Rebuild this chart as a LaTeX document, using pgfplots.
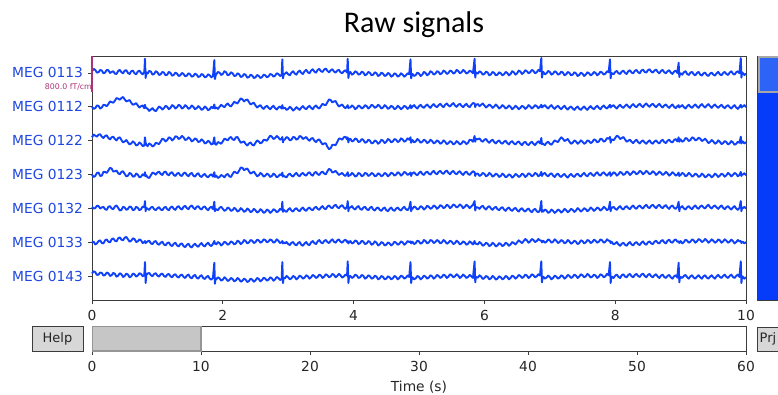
\documentclass[border=0pt]{standalone}
\usepackage{pgfplots}
\pgfplotsset{compat=1.18}
\usepackage{pgfplotstable}
\usepackage{fontspec}
\setmainfont{DejaVu Sans}
\newfontfamily\titlefont{Carlito}
\definecolor{trace}{RGB}{15,65,250}
\definecolor{chlab}{RGB}{30,70,225}
\definecolor{scalec}{HTML}{AA3377}
\definecolor{sbblue}{RGB}{5,60,250}
\definecolor{sbtop}{RGB}{45,100,245}
\definecolor{btn}{RGB}{215,215,215}
\definecolor{frame}{RGB}{60,60,60}
\definecolor{selfill}{RGB}{198,198,198}
\definecolor{seldraw}{RGB}{150,150,150}

% t in 1/100 s; channel deviations in 1/100 of the channel spacing (up = positive)
\pgfplotstableread{
t a b c d e f g
0 5 0 10 0 5 0 8
2.5 12 -6 18 -7 0 2 15
5 9 -4 15 -4 1 -6 12
7.5 1 4 12 5 8 -3 4
10 2 3 18 6 7 4 5
12.5 9 -5 19 -4 0 6 11
15 7 -2 12 -3 3 -2 10
17.5 -1 6 8 8 5 -3 2
20 1 5 14 8 -2 6 4
22.5 9 2 16 5 -4 9 11
25 8 8 8 12 5 2 9
27.5 0 16 4 20 7 0 1
30 3 14 10 18 0 9 3
32.5 5 12 12 9 -2 12 10
35 -2 18 5 10 6 5 7
37.5 -3 26 1 12 9 3 -1
40 6 24 8 4 2 12 2
42.5 9 21 10 1 -6 15 9
45 2 26 2 8 -4 8 6
47.5 -1 29 -5 10 5 6 -2
50 7 22 -2 2 3 14 1
52.5 8 16 2 -5 -4 16 8
55 0 18 -5 -3 -1 9 5
57.5 -3 20 -11 5 6 2 -3
60 5 12 -8 2 4 5 0
62.5 7 6 -2 -6 -5 12 8
65 -1 8 -6 -5 -3 10 6
67.5 -4 11 -14 3 5 1 -1
70 4 4 -12 0 2 3 2
72.5 7 -2 -5 -8 -5 9 9
75 0 2 -9 -6 -2 6 7
77.5 -4 4 -16 1 6 -2 0
80 3 -4 -14 -3 4 1 4
81 42 6 10 7 22 4 42
82 -15 -3 -6 -5 -8 -2 -20
83 2 -3 -12 -2 2 0 3
85 -2 -6 -16 -8 -1 3 8
87.5 6 -12 -8 -10 -4 5 10
90 4 -8 -11 -2 3 -3 3
92.5 -5 -4 -17 6 5 -5 0
95 -3 -10 -14 4 -2 2 7
97.5 5 -13 -6 0 -5 4 9
100 2 -6 -8 6 1 -4 2
102.5 -6 1 -10 9 4 -7 -1
105 -4 -2 -2 2 -3 -1 6
107.5 3 -8 6 -1 -5 2 8
110 1 -4 4 7 2 -6 1
112.5 -7 3 -2 9 5 -9 -2
115 -5 0 2 1 -2 -2 5
117.5 3 -7 10 -2 -5 0 7
120 0 -3 8 5 3 -8 0
122.5 -8 5 1 7 6 -11 -3
125 -6 2 5 -1 -1 -4 4
127.5 1 -5 13 -4 -4 -1 6
130 -2 -1 12 3 4 -9 -1
132.5 -9 6 5 5 7 -12 -4
135 -7 3 8 -2 0 -5 3
137.5 0 -5 14 -4 -3 -3 5
140 -3 -2 10 4 5 -11 -2
142.5 -10 5 2 6 8 -14 -5
145 -8 1 4 -1 1 -7 2
147.5 -1 -6 10 -5 -2 -4 5
150 -4 -3 6 2 6 -12 -3
152.5 -11 4 -2 5 9 -15 -6
155 -9 0 1 -3 2 -8 1
157.5 -2 -7 7 -6 -2 -4 4
160 -5 -4 4 1 5 -10 -4
162.5 -12 2 -4 4 7 -13 -7
165 -10 -2 -2 -4 0 -6 0
167.5 -3 -9 4 -7 -3 -2 3
170 -6 -6 0 -1 4 -9 -5
172.5 -13 1 -8 2 6 -12 -8
175 -11 -3 -6 -5 -1 -5 -2
177.5 -4 -10 0 -8 -5 -1 1
180 -7 -7 -4 -2 2 -8 -7
182.5 -13 0 -11 1 5 -11 -10
185 -9 -4 -9 -6 -2 -4 -4
187 38 7 10 7 20 4 40
188 -18 -5 -10 -7 -8 -4 -22
189 -8 -3 -10 -5 -1 -3 -6
190 -4 -2 -12 -3 -3 -6 -9
192.5 3 -6 -4 -10 -5 1 -3
195 1 0 -6 -7 2 -2 -6
197.5 -6 6 -9 -1 5 -9 -13
200 -3 2 -2 -4 -1 -5 -10
202.5 5 -1 6 -8 -7 2 -3
205 2 6 4 -1 -4 -1 -7
207.5 -7 10 1 2 3 -7 -14
210 -5 4 8 -5 0 -4 -11
212.5 2 1 11 -7 -7 3 -5
215 -1 8 4 2 -5 0 -8
217.5 -9 15 2 9 2 -6 -15
220 -8 12 10 6 -2 -3 -12
222.5 -1 10 11 4 -9 5 -5
225 -4 18 2 12 -6 2 -9
227.5 -12 25 -6 21 1 -5 -16
230 -10 22 -4 20 -3 -1 -13
232.5 -3 16 -2 13 -10 7 -7
235 -6 20 -10 16 -7 4 -10
237.5 -14 22 -14 18 0 -3 -17
240 -12 14 -8 10 -4 0 -14
242.5 -5 7 -5 3 -11 7 -7
245 -8 10 -12 6 -8 5 -10
247.5 -15 12 -14 9 -1 -2 -16
250 -13 4 -6 2 -5 1 -12
252.5 -6 -2 1 -5 -12 8 -5
255 -9 2 -2 -2 -9 6 -8
257.5 -15 5 -8 5 -2 -1 -15
260 -12 -2 -5 1 -6 2 -11
262.5 -5 -6 3 -6 -13 9 -4
265 -7 0 2 -3 -10 7 -7
267.5 -13 3 0 3 -3 0 -13
270 -10 -3 8 0 -6 3 -10
272.5 -3 -7 15 -7 -13 9 -3
275 -5 -1 12 -4 -9 6 -6
277.5 -11 3 5 3 -2 -1 -13
280 -8 -4 8 -1 -5 2 -9
282.5 -1 -8 14 -8 -11 9 -2
285 -3 -2 10 -5 -8 5 -5
287.5 -9 1 3 1 -1 -2 -11
290 -6 -5 6 -2 -4 1 -8
291 40 5 11 6 20 4 42
292 -16 -5 -5 -6 -10 -3 -20
293 -6 -3 2 -3 -3 0 -4
295 -2 -3 4 -6 -7 -3 -6
297.5 2 -9 11 -8 -10 1 1
300 -4 -6 8 0 -3 -5 -3
302.5 -7 0 1 3 1 -8 -9
305 1 -4 3 -3 -6 -1 -6
307.5 5 -11 11 -6 -9 1 1
310 -2 -7 10 1 -2 -6 -2
312.5 -5 -1 3 5 1 -9 -9
315 3 -5 6 -2 -5 -2 -5
317.5 7 -9 14 -5 -8 1 2
320 0 -2 12 2 -1 -7 -1
322.5 -3 2 5 5 3 -10 -7
325 5 -4 8 -1 -4 -3 -4
327.5 9 -7 11 -3 -7 1 3
330 2 -1 4 4 0 -6 0
332.5 -1 3 0 7 3 -8 -7
335 7 -3 6 0 -3 0 -3
337.5 11 -7 8 -3 -5 4 4
340 4 0 0 5 2 -2 1
342.5 1 4 -4 8 5 -5 -5
345 9 -2 2 1 -1 3 -2
347.5 12 -5 4 -1 -4 7 5
350 5 2 -4 6 3 0 2
352.5 3 9 -11 9 7 -3 -5
355 10 6 -8 3 0 4 -1
357.5 13 5 -8 1 -2 7 6
360 6 14 -18 10 6 1 3
362.5 2 22 -25 17 9 -2 -3
365 8 20 -22 14 3 5 0
367.5 11 13 -12 6 1 9 7
370 4 16 -12 8 8 2 4
372.5 1 17 -13 11 11 -1 -3
375 7 8 -4 5 4 6 1
377.5 9 1 6 -1 1 9 7
380 2 4 6 2 7 2 3
382.5 -1 7 3 5 10 -1 -4
385 5 0 10 -1 3 5 -1
387.5 8 -4 12 -4 -1 8 5
390 1 2 4 3 6 1 2
391 42 5 10 7 22 4 44
392 -15 -4 -5 -5 -8 -3 -20
393 -3 -2 4 -2 2 0 -3
395 3 -2 6 -2 3 4 1
397.5 -5 4 -2 5 7 -3 -5
400 -2 0 0 1 0 -1 -2
402.5 5 -7 7 -6 -3 6 5
405 2 -3 4 -3 4 3 2
407.5 -5 4 -4 5 7 -5 -5
410 -3 1 -2 2 -1 -2 -3
412.5 4 -5 5 -5 -4 5 4
415 1 -2 2 -2 3 2 1
417.5 -7 5 -6 5 5 -5 -7
420 -4 2 -4 3 -2 -3 -4
422.5 3 -5 3 -4 -5 4 3
425 0 -1 0 -1 2 1 0
427.5 -7 6 -8 5 5 -7 -7
430 -5 3 -6 2 -3 -4 -5
432.5 2 -3 1 -5 -6 3 2
435 -1 0 -2 -3 1 -1 -1
437.5 -9 6 -9 4 3 -9 -9
440 -6 2 -5 1 -4 -6 -6
442.5 1 -5 3 -5 -7 1 1
445 -2 -2 0 -2 0 -2 -2
447.5 -9 5 -7 5 3 -9 -9
450 -7 1 -3 2 -5 -7 -7
452.5 0 -6 5 -5 -8 0 0
455 -3 -3 2 -1 -1 -3 -3
457.5 -11 3 -5 6 3 -9 -9
460 -8 0 -2 3 -4 -5 -6
462.5 -1 -7 5 -3 -7 2 1
465 -4 -4 3 0 0 -1 -2
467.5 -11 3 -4 7 3 -7 -9
470 -8 -1 -1 4 -3 -4 -5
472.5 -1 -7 7 -3 -6 3 2
475 -5 -3 4 1 1 0 -1
477.5 -11 3 -3 8 5 -7 -7
480 -7 0 0 5 -2 -3 -4
482.5 -1 -6 7 -1 -5 4 2
485 -4 -2 3 2 2 1 -2
487 40 5 10 6 20 3 42
488 -16 -4 -6 -4 -8 -3 -20
489 -6 -2 0 2 -1 0 -5
490 -3 1 2 4 -1 2 -3
492.5 -9 5 -5 7 6 -5 -9
495 -6 -1 -2 1 3 -2 -6
497.5 1 -5 5 -2 -3 5 1
500 -2 2 1 5 0 3 -2
502.5 -9 6 -6 9 7 -4 -9
505 -5 0 -3 2 4 -1 -5
507.5 3 -3 3 -1 -3 7 2
510 0 3 0 6 1 4 -1
512.5 -7 7 -7 9 8 -3 -7
515 -3 1 -4 3 5 0 -4
517.5 5 -3 3 0 -1 7 3
520 2 4 -1 7 2 5 0
522.5 -5 8 -8 11 9 -2 -7
525 -2 2 -5 4 6 1 -3
527.5 5 -1 1 1 -1 7 4
530 3 5 -2 8 3 4 1
532.5 -4 9 -9 11 10 -3 -5
535 -1 3 -6 5 7 0 -2
537.5 7 -1 1 2 1 7 5
540 4 6 -3 9 4 3 2
542.5 -3 10 -10 12 11 -4 -5
545 0 4 -7 5 8 -1 -1
547.5 7 1 -1 1 1 5 6
550 5 7 -4 8 5 2 3
552.5 -2 11 -11 11 12 -5 -3
555 1 4 -8 4 9 -2 0
557.5 9 0 -1 1 3 5 6
560 6 6 -5 7 6 1 2
562.5 -1 9 -11 10 12 -6 -5
565 2 3 -8 3 8 -3 -1
567.5 9 -1 -1 -1 1 3 5
570 5 5 -4 6 5 0 1
572.5 -2 9 -10 9 11 -7 -5
575 1 2 -6 2 7 -4 -2
577.5 7 -1 3 -1 1 3 4
580 4 6 2 5 6 -1 0
582.5 -1 11 -3 10 11 -6 -5
585 42 10 14 7 22 4 44
586 -14 -1 -3 -4 -6 -4 -18
587 2 6 6 2 4 -3 -2
590 -2 8 4 3 3 -6 -4
592.5 5 2 7 -4 -1 1 3
595 2 6 0 -1 5 -3 -1
597.5 -5 10 -3 5 8 -10 -8
600 -3 4 3 2 1 -7 -5
602.5 4 -2 5 -5 -3 -1 1
605 1 2 -2 -2 4 -4 -2
607.5 -7 7 -6 5 7 -11 -9
610 -4 3 0 1 0 -8 -6
612.5 3 -3 3 -6 -4 -1 1
615 0 1 -4 -3 2 -5 -3
617.5 -7 7 -8 3 5 -12 -10
620 -5 2 -2 0 -2 -9 -7
622.5 2 -5 1 -7 -5 -2 0
625 -1 -1 -6 -4 1 -5 -3
627.5 -7 5 -9 3 4 -11 -9
630 -4 1 -3 -1 -3 -8 -6
632.5 3 -5 0 -8 -7 -1 1
635 0 -2 -7 -5 0 -4 -2
637.5 -7 4 -11 1 3 -10 -9
640 -3 0 -4 -2 -4 -6 -5
642.5 5 -7 -1 -9 -7 1 2
645 2 -3 -8 -5 -1 -2 -1
647.5 -5 3 -11 2 2 -6 -7
650 -1 -1 -5 -1 -5 0 -3
652.5 7 -7 -2 -7 -9 6 4
655 4 -3 -9 -4 -2 2 1
657.5 -3 3 -13 3 1 -2 -5
660 1 0 -6 0 -6 4 -2
662.5 8 -6 -3 -7 -9 10 5
665 5 -2 -10 -3 -3 6 2
667.5 -1 5 -13 4 0 -1 -5
670 2 1 -7 1 -7 3 -1
672.5 9 -5 -3 -5 -11 10 6
675 6 -1 -9 -2 -4 7 3
677.5 -1 5 -13 5 -1 1 -3
680 2 2 -6 2 -8 4 0
682.5 9 -4 -2 -5 -11 10 6
685 5 0 -8 -1 -5 6 2
687 44 6 8 8 22 5 44
688 -14 -2 -10 -4 -10 0 -18
689 0 0 -8 0 -6 4 -2
690 3 2 -10 2 -9 5 -1
692.5 -4 5 -13 5 -3 -1 -7
695 -1 -1 -6 -2 -6 2 -4
697.5 6 -5 -3 -5 -13 9 2
700 3 1 -9 1 -10 6 -2
702.5 -5 5 -12 4 -3 -1 -9
705 -2 -2 -5 -3 -7 2 -5
707.5 5 -6 1 -7 -13 9 2
710 2 0 -2 0 -9 5 -1
712.5 -5 3 -4 3 -3 -2 -7
715 -3 -3 4 -4 -6 1 -4
717.5 4 -7 10 -7 -12 7 3
720 1 -1 6 -1 -8 4 0
722.5 -7 3 -1 2 -1 -3 -7
725 -4 -4 2 -5 -5 0 -3
727.5 3 -8 5 -9 -11 7 4
730 0 -2 -3 -2 -7 3 1
732.5 -7 1 -9 2 -1 -4 -5
735 -5 -5 -6 -4 -4 -1 -2
737.5 2 -9 1 -7 -10 5 5
740 -1 -3 -2 0 -6 2 2
742.5 -9 1 -9 3 1 -5 -5
745 -6 -6 -5 -3 -3 -2 -1
747.5 1 -9 1 -6 -9 6 6
750 -2 -3 -3 1 -5 4 3
752.5 -9 1 -9 5 1 -3 -3
755 -5 -5 -6 -2 -2 0 0
757.5 2 -9 1 -5 -8 7 7
760 -1 -2 -1 2 -4 5 3
762.5 -7 2 -7 5 3 -2 -4
765 -4 -4 -4 -1 -1 1 -1
767.5 3 -7 4 -4 -7 8 5
770 0 -1 2 3 -3 5 2
772.5 -7 3 -5 7 3 -1 -5
775 -3 -3 -2 0 0 2 -1
777.5 4 -7 6 -3 -6 9 6
780 1 0 4 4 -2 6 3
782.5 -5 4 -3 7 5 -1 -3
785 -2 -2 0 1 1 2 0
787.5 5 -5 8 -3 -5 9 7
790 2 1 6 3 -1 5 3
792 40 6 11 7 20 4 42
793 -16 -2 -6 -4 -8 -2 -20
794 0 0 2 0 0 2 -2
795 -1 2 4 0 2 1 -1
797.5 -4 5 1 7 5 -6 -5
800 3 -1 8 4 -1 -3 2
802.5 6 -5 15 -3 -4 1 5
805 -1 2 12 1 3 -6 -2
807.5 -3 6 5 8 7 -10 -5
810 4 0 8 5 0 -4 3
812.5 7 -3 11 -1 -3 -1 6
815 0 3 4 2 4 -7 -1
817.5 -3 7 -3 9 7 -10 -3
820 5 1 0 6 1 -3 4
822.5 8 -3 3 -1 -2 1 7
825 1 4 -3 3 5 -6 0
827.5 -1 8 -7 10 9 -9 -3
830 6 2 -1 7 2 -2 4
832.5 9 -1 3 1 -1 1 7
835 2 5 -4 4 6 -5 1
837.5 -1 9 -8 11 9 -8 -2
840 7 3 -2 8 3 -1 5
842.5 10 -1 1 1 0 3 8
845 3 6 -5 5 7 -4 1
847.5 1 10 -9 11 11 -7 -3
850 8 4 -3 7 4 0 4
852.5 11 0 1 1 1 3 7
855 4 6 -6 4 8 -3 0
857.5 1 9 -9 10 11 -5 -3
860 7 3 -2 6 5 2 3
862.5 10 -1 1 -1 1 5 6
865 3 5 -5 3 8 -1 -1
867.5 -1 9 -8 9 11 -3 -5
870 6 2 -1 5 4 4 2
872.5 9 -2 3 -1 1 7 5
875 2 4 -4 2 7 0 -2
877.5 -1 7 -7 8 10 -3 -5
880 5 1 0 4 3 5 1
882.5 8 -3 3 -3 -1 8 4
885 1 3 -3 1 6 1 -3
887.5 -3 7 -5 7 9 -1 -7
890 4 0 2 3 2 6 0
892.5 7 -4 5 -3 -1 9 3
895 0 2 -2 0 5 2 -4
897 30 5 10 6 20 3 40
898 -12 -2 -3 -4 -8 -2 -18
899 -2 0 2 -2 2 2 -4
900 -1 1 4 -1 3 4 -2
902.5 -5 5 -3 5 7 -3 -5
905 2 -1 0 2 0 1 1
907.5 5 -5 8 -5 -3 8 4
910 -3 2 6 -2 4 5 -3
912.5 -6 6 -1 5 7 -1 -7
915 1 0 2 1 1 2 0
917.5 3 -3 10 -6 -2 9 3
920 -4 3 8 -3 5 6 -4
922.5 -7 7 1 3 9 -1 -7
925 0 1 3 0 2 3 -1
927.5 3 -3 9 -7 -1 10 3
930 -5 4 6 -4 6 7 -3
932.5 -8 8 -1 3 9 1 -7
935 -1 2 2 -1 3 4 0
937.5 1 -2 6 -8 0 10 3
940 -6 4 0 -5 7 6 -4
942.5 -9 8 -7 1 11 -1 -7
945 -2 2 -4 -2 4 3 -1
947.5 1 -3 2 -8 0 9 3
950 -5 3 -2 -4 6 5 -3
952.5 -8 7 -9 3 9 -1 -7
955 -1 1 -6 -1 3 2 0
957.5 3 -3 1 -7 -1 9 4
960 -4 2 -3 -3 5 6 -2
962.5 -7 6 -10 3 9 -1 -5
965 0 0 -7 0 2 3 1
967.5 3 -4 -1 -6 -2 9 5
970 -3 2 -4 -2 4 5 -2
972.5 -6 5 -11 5 7 -1 -5
975 1 -1 -8 1 1 2 1
977.5 5 -5 -1 -5 -3 8 5
980 -2 1 -5 -1 3 4 -2
982.5 -5 5 -12 5 7 -3 -5
985 2 -2 -9 2 0 1 1
987.5 5 -6 -3 -5 -4 7 5
990 -1 0 -6 -1 2 3 -2
992 44 6 12 8 22 4 44
993 -14 -2 -8 -4 -8 -2 -20
994 2 0 -4 1 2 2 0
995 0 1 -2 0 1 2 -1
997.5 -6 5 -8 4 5 -3 -7
1000 -2 -1 -4 -2 0 1 -3
}\sig

\begin{document}
\begin{tikzpicture}
\useasboundingbox (0pt,0pt) rectangle (778pt,394pt);
\begin{scope}
\clip (0pt,0pt) rectangle (778pt,394pt);

% title
\node[font=\titlefont\fontsize{30}{34}\selectfont] at (414pt,369pt) {Raw signals};

% channel scrollbar (right)
\fill[sbblue] (757pt,94pt) rectangle (800pt,338pt);
\draw[frame, line width=0.8pt] (757pt,338pt) -- (757pt,94pt) -- (800pt,94pt);
\draw[gray!70, line width=2pt, fill=sbtop] (758.5pt,302pt) rectangle (802pt,337pt);

% buttons
\draw[frame, line width=0.8pt, fill=btn] (32pt,43pt) rectangle (83pt,68pt);
\node[font=\fontsize{13}{14}\selectfont, text=black!85] at (57.5pt,55.5pt) {Help};
\draw[frame, line width=0.8pt, fill=btn] (757pt,43pt) rectangle (805pt,67pt);
\node[anchor=west, inner sep=0pt, font=\fontsize{13}{14}\selectfont, text=black!85] at (759.5pt,55pt) {Prj};

% main traces axis
\begin{axis}[
  at={(92pt,94pt)}, anchor=south west, scale only axis,
  width=654pt, height=244pt,
  xmin=0, xmax=10, ymin=-670, ymax=50,
  clip=false,
  xtick={0,2,4,6,8,10},
  ytick={-600,-500,-400,-300,-200,-100,0},
  yticklabels={MEG 0143,MEG 0133,MEG 0132,MEG 0123,MEG 0122,MEG 0112,MEG 0113},
  xtick pos=left, ytick pos=left,
  tick align=outside, major tick length=4pt,
  tick style={frame, line width=0.8pt},
  axis line style={frame, line width=0.9pt},
  yticklabel style={text=chlab, font=\fontsize{13.8}{15}\selectfont, xshift=-1.5pt},
  xticklabel style={text=black!85, font=\fontsize{13.8}{15}\selectfont, yshift=-3pt},
  /pgf/number format/assume math mode=true,
]
\addplot[trace, line width=1.9pt, line join=round] table[x expr=\thisrow{t}/100, y expr=\thisrow{a}] {\sig};
\addplot[trace, line width=1.9pt, line join=round] table[x expr=\thisrow{t}/100, y expr=\thisrow{b}-100] {\sig};
\addplot[trace, line width=1.9pt, line join=round] table[x expr=\thisrow{t}/100, y expr=\thisrow{c}-200] {\sig};
\addplot[trace, line width=1.9pt, line join=round] table[x expr=\thisrow{t}/100, y expr=\thisrow{d}-300] {\sig};
\addplot[trace, line width=1.9pt, line join=round] table[x expr=\thisrow{t}/100, y expr=\thisrow{e}-400] {\sig};
\addplot[trace, line width=1.9pt, line join=round] table[x expr=\thisrow{t}/100, y expr=\thisrow{f}-500] {\sig};
\addplot[trace, line width=1.9pt, line join=round] table[x expr=\thisrow{t}/100, y expr=\thisrow{g}-600] {\sig};
% scale bar
\addplot[scalec, line width=1.6pt] coordinates {(0,49) (0,-55)};
\node[anchor=east, text=scalec, font=\fontsize{7.8}{9}\selectfont, inner sep=0pt] at (axis cs:0,-42) {800.0 fT/cm\hspace{2.5pt}};
\end{axis}

% time scrollbar axis
\begin{axis}[
  at={(92pt,43pt)}, anchor=south west, scale only axis,
  width=654pt, height=25pt,
  xmin=0, xmax=60, ymin=0, ymax=1,
  ytick=\empty,
  xtick={0,10,20,30,40,50,60},
  xtick pos=left,
  tick align=outside, major tick length=4pt,
  tick style={frame, line width=0.8pt},
  axis line style={frame, line width=0.9pt},
  xticklabel style={text=black!85, font=\fontsize{13.8}{15}\selectfont, yshift=-3pt},
  xlabel={Time (s)},
  xlabel style={text=black!85, font=\fontsize{13.8}{15}\selectfont, yshift=-2pt},
  /pgf/number format/assume math mode=true,
]
\addplot[fill=selfill, draw=seldraw, line width=2.2pt] coordinates {(0,0) (10,0) (10,1) (0,1)} -- cycle;
\end{axis}
\end{scope}
\end{tikzpicture}
\end{document}
